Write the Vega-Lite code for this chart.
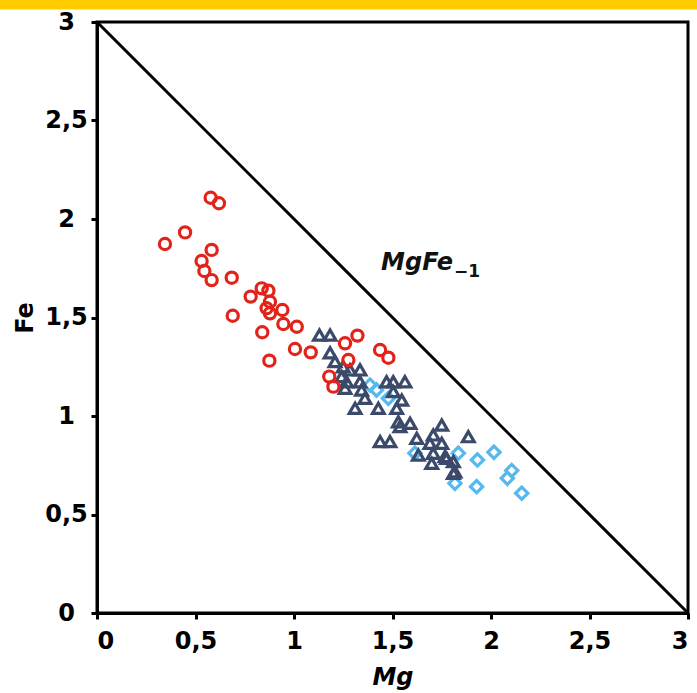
{
  "$schema": "https://vega.github.io/schema/vega-lite/v6.json",
  "width": 591,
  "height": 591,
  "autosize": {"type": "none"},
  "padding": {"left": 97, "top": 22, "right": 9, "bottom": 80},
  "background": "white",
  "config": {
    "view": {"stroke": "black", "strokeWidth": 3},
    "axis": {
      "domainColor": "black", "domainWidth": 3,
      "tickColor": "black", "tickWidth": 3, "tickSize": 6,
      "labelFont": "DejaVu Sans", "labelFontWeight": "bold", "labelFontSize": 24, "labelColor": "black",
      "titleFont": "DejaVu Sans", "titleFontWeight": "bold", "titleFontSize": 24, "titleColor": "black",
      "grid": false
    }
  },
  "datasets": {
    "pts": [
      {"Mg": 0.577, "Fe": 2.108, "g": "A"},
      {"Mg": 0.619, "Fe": 2.080, "g": "A"},
      {"Mg": 0.447, "Fe": 1.932, "g": "A"},
      {"Mg": 0.345, "Fe": 1.873, "g": "A"},
      {"Mg": 0.582, "Fe": 1.843, "g": "A"},
      {"Mg": 0.531, "Fe": 1.787, "g": "A"},
      {"Mg": 0.545, "Fe": 1.736, "g": "A"},
      {"Mg": 0.582, "Fe": 1.690, "g": "A"},
      {"Mg": 0.684, "Fe": 1.702, "g": "A"},
      {"Mg": 0.836, "Fe": 1.648, "g": "A"},
      {"Mg": 0.870, "Fe": 1.636, "g": "A"},
      {"Mg": 0.780, "Fe": 1.606, "g": "A"},
      {"Mg": 0.878, "Fe": 1.580, "g": "A"},
      {"Mg": 0.861, "Fe": 1.547, "g": "A"},
      {"Mg": 0.878, "Fe": 1.521, "g": "A"},
      {"Mg": 0.941, "Fe": 1.538, "g": "A"},
      {"Mg": 0.946, "Fe": 1.467, "g": "A"},
      {"Mg": 1.014, "Fe": 1.453, "g": "A"},
      {"Mg": 0.689, "Fe": 1.509, "g": "A"},
      {"Mg": 0.839, "Fe": 1.425, "g": "A"},
      {"Mg": 1.005, "Fe": 1.340, "g": "A"},
      {"Mg": 1.085, "Fe": 1.323, "g": "A"},
      {"Mg": 0.875, "Fe": 1.281, "g": "A"},
      {"Mg": 1.322, "Fe": 1.408, "g": "A"},
      {"Mg": 1.259, "Fe": 1.369, "g": "A"},
      {"Mg": 1.437, "Fe": 1.335, "g": "A"},
      {"Mg": 1.479, "Fe": 1.296, "g": "A"},
      {"Mg": 1.276, "Fe": 1.284, "g": "A"},
      {"Mg": 1.179, "Fe": 1.200, "g": "A"},
      {"Mg": 1.200, "Fe": 1.149, "g": "A"},
      {"Mg": 1.386, "Fe": 1.157, "g": "C"},
      {"Mg": 1.419, "Fe": 1.132, "g": "C"},
      {"Mg": 1.479, "Fe": 1.090, "g": "C"},
      {"Mg": 1.614, "Fe": 0.811, "g": "C"},
      {"Mg": 1.834, "Fe": 0.811, "g": "C"},
      {"Mg": 1.931, "Fe": 0.777, "g": "C"},
      {"Mg": 2.015, "Fe": 0.816, "g": "C"},
      {"Mg": 2.105, "Fe": 0.723, "g": "C"},
      {"Mg": 2.083, "Fe": 0.684, "g": "C"},
      {"Mg": 2.156, "Fe": 0.608, "g": "C"},
      {"Mg": 1.927, "Fe": 0.641, "g": "C"},
      {"Mg": 1.817, "Fe": 0.658, "g": "C"},
      {"Mg": 1.129, "Fe": 1.411, "g": "B"},
      {"Mg": 1.183, "Fe": 1.411, "g": "B"},
      {"Mg": 1.183, "Fe": 1.321, "g": "B"},
      {"Mg": 1.208, "Fe": 1.276, "g": "B"},
      {"Mg": 1.250, "Fe": 1.250, "g": "B"},
      {"Mg": 1.284, "Fe": 1.234, "g": "B"},
      {"Mg": 1.335, "Fe": 1.234, "g": "B"},
      {"Mg": 1.242, "Fe": 1.200, "g": "B"},
      {"Mg": 1.267, "Fe": 1.174, "g": "B"},
      {"Mg": 1.335, "Fe": 1.174, "g": "B"},
      {"Mg": 1.259, "Fe": 1.141, "g": "B"},
      {"Mg": 1.343, "Fe": 1.132, "g": "B"},
      {"Mg": 1.310, "Fe": 1.039, "g": "B"},
      {"Mg": 1.360, "Fe": 1.090, "g": "B"},
      {"Mg": 1.428, "Fe": 1.039, "g": "B"},
      {"Mg": 1.470, "Fe": 1.174, "g": "B"},
      {"Mg": 1.504, "Fe": 1.174, "g": "B"},
      {"Mg": 1.563, "Fe": 1.174, "g": "B"},
      {"Mg": 1.504, "Fe": 1.124, "g": "B"},
      {"Mg": 1.547, "Fe": 1.081, "g": "B"},
      {"Mg": 1.521, "Fe": 1.039, "g": "B"},
      {"Mg": 1.530, "Fe": 0.971, "g": "B"},
      {"Mg": 1.589, "Fe": 0.963, "g": "B"},
      {"Mg": 1.538, "Fe": 0.946, "g": "B"},
      {"Mg": 1.437, "Fe": 0.870, "g": "B"},
      {"Mg": 1.487, "Fe": 0.870, "g": "B"},
      {"Mg": 1.623, "Fe": 0.887, "g": "B"},
      {"Mg": 1.750, "Fe": 0.954, "g": "B"},
      {"Mg": 1.707, "Fe": 0.904, "g": "B"},
      {"Mg": 1.631, "Fe": 0.802, "g": "B"},
      {"Mg": 1.690, "Fe": 0.861, "g": "B"},
      {"Mg": 1.750, "Fe": 0.861, "g": "B"},
      {"Mg": 1.707, "Fe": 0.811, "g": "B"},
      {"Mg": 1.766, "Fe": 0.794, "g": "B"},
      {"Mg": 1.699, "Fe": 0.760, "g": "B"},
      {"Mg": 1.809, "Fe": 0.769, "g": "B"},
      {"Mg": 1.809, "Fe": 0.709, "g": "B"},
      {"Mg": 1.885, "Fe": 0.895, "g": "B"},
      {"Mg": 1.817, "Fe": 0.717, "g": "B"},
      {"Mg": 1.775, "Fe": 0.785, "g": "B"}
    ],
    "line": [{"Mg": 0, "Fe": 3}, {"Mg": 3, "Fe": 0}]
  },
  "layer": [
    {
      "data": {"values": [{}]},
      "mark": {"type": "rect", "color": "#ffcc00", "clip": false},
      "encoding": {
        "x": {"datum": -0.6, "type": "quantitative", "scale": {"domain": [0, 3], "nice": false}},
        "x2": {"datum": 3.2},
        "y": {"datum": 3.0635, "type": "quantitative", "scale": {"domain": [0, 3], "nice": false}},
        "y2": {"datum": 3.3}
      }
    },
    {
      "data": {"name": "line"},
      "mark": {"type": "line", "color": "black", "strokeWidth": 3},
      "encoding": {
        "x": {"field": "Mg", "type": "quantitative", "scale": {"domain": [0, 3], "nice": false}},
        "y": {"field": "Fe", "type": "quantitative", "scale": {"domain": [0, 3], "nice": false}}
      }
    },
    {
      "data": {"name": "pts"},
      "mark": {"type": "point", "filled": false, "strokeWidth": 3.2, "opacity": 1},
      "encoding": {
        "x": {
          "field": "Mg", "type": "quantitative",
          "scale": {"domain": [0, 3], "nice": false},
          "axis": {"values": [0, 0.5, 1, 1.5, 2, 2.5, 3], "labelExpr": "replace(format(datum.value, '~g'), '.', ',')", "title": "Mg", "titleFontStyle": "italic", "labelPadding": 10, "titlePadding": 12}
        },
        "y": {
          "field": "Fe", "type": "quantitative",
          "scale": {"domain": [0, 3], "nice": false},
          "axis": {"values": [0, 0.5, 1, 1.5, 2, 2.5, 3], "labelExpr": "replace(format(datum.value, '~g'), '.', ',')", "title": "Fe", "labelAlign": "center", "labelPadding": 25, "titleX": -60}
        },
        "shape": {"field": "g", "type": "nominal", "scale": {"domain": ["A", "B", "C"], "range": ["circle", "triangle-up", "diamond"]}, "legend": null},
        "color": {"field": "g", "type": "nominal", "scale": {"domain": ["A", "B", "C"], "range": ["#e2231a", "#3b4a6b", "#56b9ee"]}, "legend": null},
        "size": {"field": "g", "type": "nominal", "scale": {"domain": ["A", "B", "C"], "range": [125, 150, 125]}, "legend": null},
        "order": {"field": "g", "sort": "descending"}
      }
    },
    {
      "data": {"values": [{}]},
      "mark": {"type": "text", "text": "MgFe", "font": "DejaVu Sans", "fontWeight": "bold", "fontStyle": "italic", "fontSize": 24, "align": "right", "baseline": "alphabetic", "color": "#111"},
      "encoding": {
        "x": {"datum": 1.807, "type": "quantitative"},
        "y": {"datum": 1.741, "type": "quantitative"}
      }
    },
    {
      "data": {"values": [{}]},
      "mark": {"type": "text", "text": "−1", "font": "DejaVu Sans", "fontWeight": "bold", "fontSize": 17, "align": "left", "baseline": "alphabetic", "color": "#111"},
      "encoding": {
        "x": {"datum": 1.812, "type": "quantitative"},
        "y": {"datum": 1.706, "type": "quantitative"}
      }
    }
  ]
}
